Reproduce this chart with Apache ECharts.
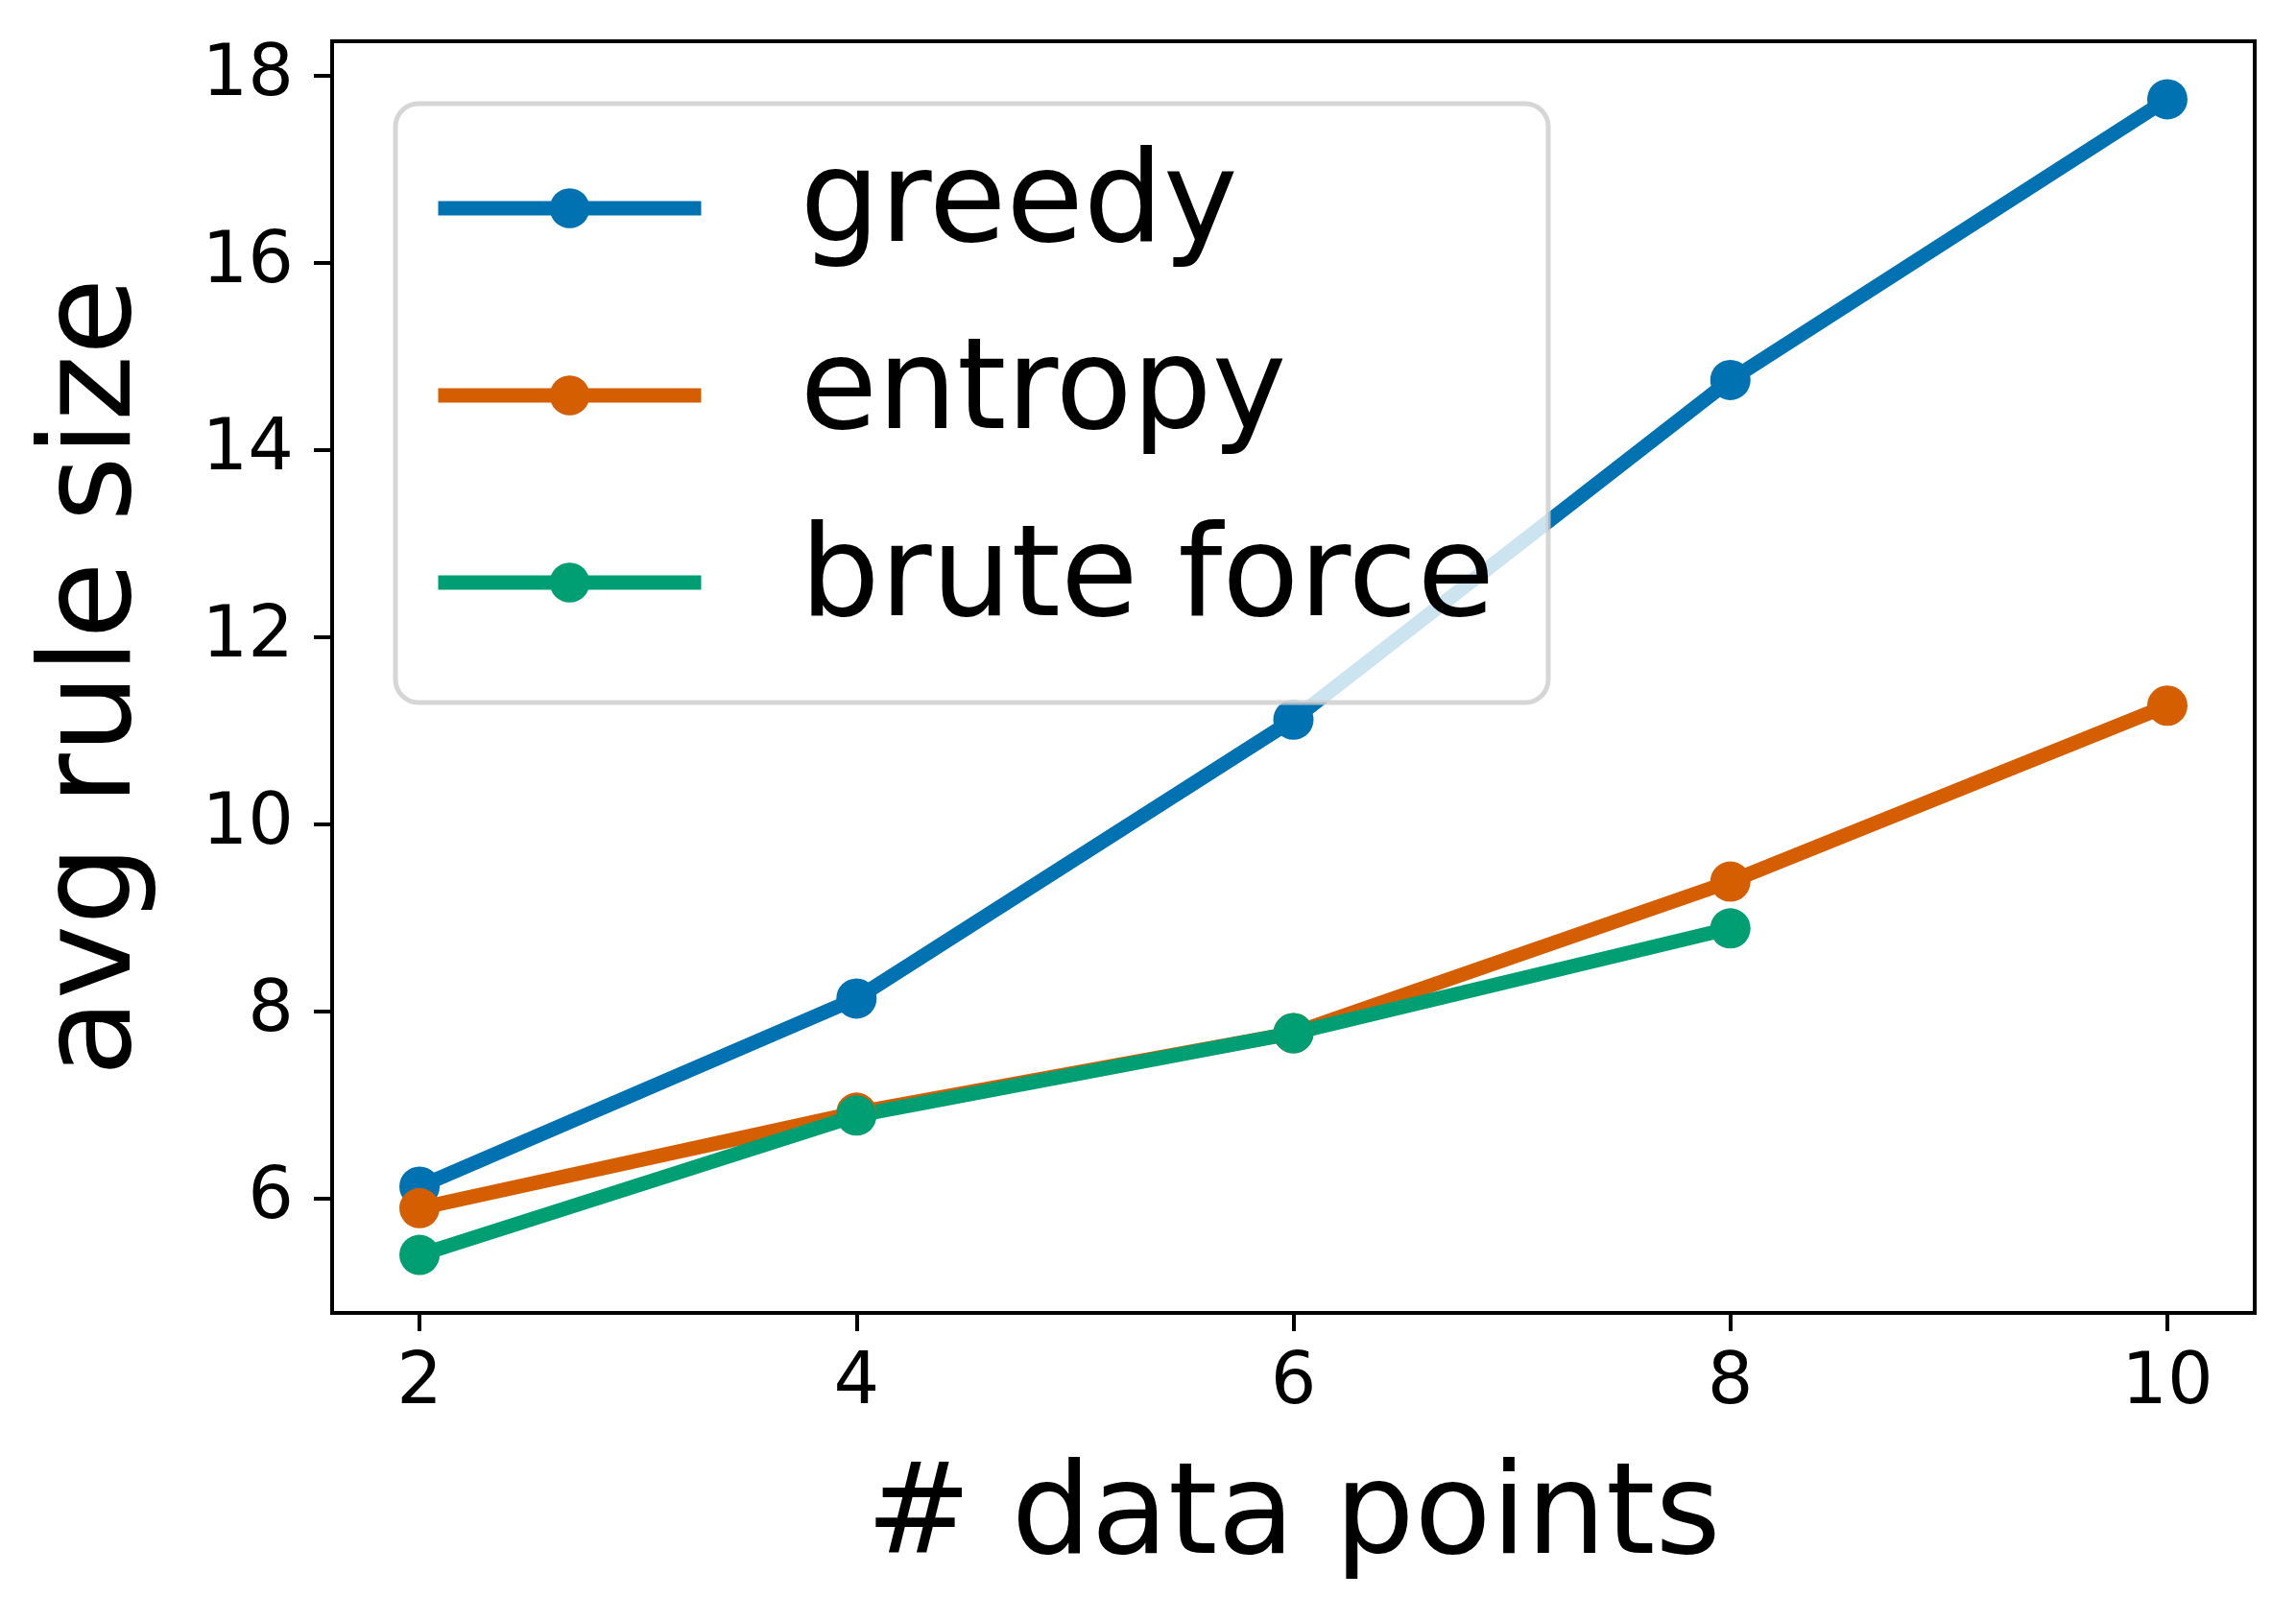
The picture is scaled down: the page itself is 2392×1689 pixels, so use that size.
<!DOCTYPE html>
<html>
<head>
<meta charset="utf-8">
<script src="https://cdn.jsdelivr.net/npm/echarts@6/dist/echarts.min.js"></script>
<style>
html,body{margin:0;padding:0;background:#fff;}
#c{width:2392px;height:1689px;}
</style>
</head>
<body>
<div id="c"></div>
<script>
const xValues = [2, 4, 6, 8, 10];
const greedy = [6.13, 8.14, 11.12, 14.75, 17.75];
const entropy = [5.9, 6.92, 7.77, 9.39, 11.27];
const bruteForce = [5.4, 6.89, 7.77, 8.89];
const xTicks = [2, 4, 6, 8, 10];
const yTicks = [6, 8, 10, 12, 14, 16, 18];
const seriesNames = ['greedy', 'entropy', 'brute force'];
const colors = ['#0072B2', '#D55E00', '#009E73'];

function pairs(ys) { return ys.map((y, i) => [xValues[i], y]); }

const font = 'DejaVu Sans';
const chart = echarts.init(document.getElementById('c'), null, {renderer: 'canvas'});
const mk = (name, ys, color) => ({
  name: name, type: 'line', data: pairs(ys),
  symbol: 'circle', symbolSize: 42,
  lineStyle: {width: 15, color: color, cap: 'butt'},
  itemStyle: {color: color},
  emphasis: {disabled: true},
  animation: false
});
chart.setOption({
  animation: false,
  color: colors,
  grid: {left: 346, right: 43, top: 43, bottom: 321, show: true, borderColor: '#000', borderWidth: 4, backgroundColor: 'transparent'},
  xAxis: {
    type: 'value', min: 1.6, max: 10.4,
    name: '# data points', nameLocation: 'middle', nameGap: 150,
    nameTextStyle: {fontFamily: font, fontSize: 131, color: '#000'},
    axisLine: {show: true, lineStyle: {color: '#000', width: 4}},
    axisTick: {show: true, length: 19, lineStyle: {color: '#000', width: 4}, customValues: xTicks},
    axisLabel: {fontFamily: font, fontSize: 75, color: '#000', margin: 37, customValues: xTicks},
    splitLine: {show: false}
  },
  yAxis: {
    type: 'value', min: 4.78, max: 18.37,
    name: 'avg rule size', nameLocation: 'middle', nameGap: 180, nameRotate: 90,
    nameTextStyle: {fontFamily: font, fontSize: 131, color: '#000'},
    axisLine: {show: true, lineStyle: {color: '#000', width: 4}},
    axisTick: {show: true, length: 19, lineStyle: {color: '#000', width: 4}, customValues: yTicks},
    axisLabel: {fontFamily: font, fontSize: 75, color: '#000', margin: 40, customValues: yTicks},
    splitLine: {show: false}
  },
  legend: {
    orient: 'vertical', left: 412, top: 108,
    data: seriesNames,
    itemWidth: 274, itemHeight: 52, itemGap: 31,
    lineStyle: {width: 15},
    backgroundColor: 'rgba(255,255,255,0.8)',
    borderColor: 'rgba(204,204,204,0.8)', borderWidth: 5, borderRadius: 24,
    padding: [27, 56, 43, 37],
    textStyle: {fontFamily: font, fontSize: 131, color: '#000', lineHeight: 150, padding: [14, 0, 0, 98]},
    selectedMode: false
  },
  series: [
    mk(seriesNames[0], greedy, colors[0]),
    mk(seriesNames[1], entropy, colors[1]),
    mk(seriesNames[2], bruteForce, colors[2])
  ]
});
</script>
</body>
</html>
